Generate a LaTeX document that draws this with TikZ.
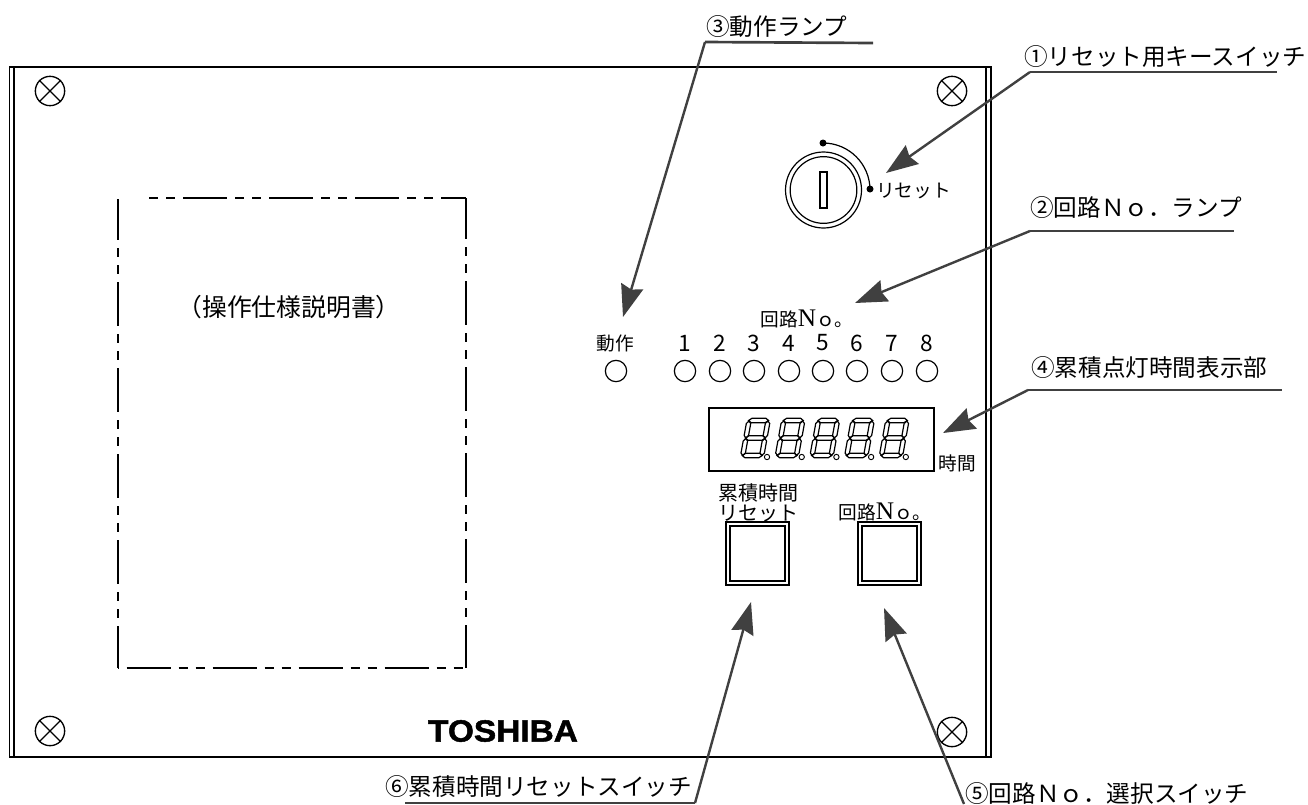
\documentclass[tikz,border=0pt]{standalone}
\usepackage{fontspec}
\setmainfont{Noto Sans CJK JP}
\newfontfamily\serifN{Liberation Serif}
\newfontfamily\logofont{Liberation Sans}[BoldFeatures={FakeBold=1.5}]
\usetikzlibrary{arrows.meta}
\definecolor{leader}{rgb}{0.25,0.25,0.25}
\tikzset{lamp/.style = {shape=circle,draw,line width=0.9pt,inner sep=0pt,minimum size=16pt}}
\tikzset{screw/.style = {shape=circle,draw,line width=1pt,inner sep=0pt,minimum size=22pt}}
\tikzset{callout/.style = {font=\fontsize{17.7}{17.7}\selectfont,anchor=west,inner sep=0pt}}
\tikzset{lbl/.style = {font=\fontsize{14}{14}\selectfont,inner sep=0pt}}
\tikzset{underline/.style = {draw=leader,line width=2pt}}
\tikzset{edge/.style = {draw=leader,line width=1.8pt,-{Stealth[length=24pt,width=17pt,inset=2.5pt,fill=leader]}}}
\tikzset{segment/.style = {draw,line width=0.9pt}}
\tikzset{sheetline/.style = {line width=1.3pt,dash pattern=on 33pt off 6pt on 6.75pt off 6pt on 6.75pt off 6pt}}
\newcommand{\hseg}[2]{\draw[segment] (#1,#2) -- ++(3,-2.2) -- ++(14,0) -- ++(3,2.2) -- ++(-3,2.2) -- ++(-14,0) -- cycle;}
\newcommand{\vseg}[2]{\draw[segment] (#1,#2) -- ++(2.2,2.5) -- ++(0,12) -- ++(-2.2,2.5) -- ++(-2.2,-2.5) -- ++(0,-12) -- cycle;}
\begin{document}
\begin{tikzpicture}[x=0.75pt,y=-0.75pt]
\useasboundingbox (0,0) rectangle (1308,804);
% panel
\node[draw,line width=1.3pt,minimum width=736pt,minimum height=517.5pt,inner sep=0pt] (panel) at (500.25,412) {};
\draw[line width=1.1pt] (14,67) -- (14,757);
\draw[line width=1.1pt] (986,67) -- (986,757);
% screws
\foreach \name/\x/\y in {sa/50/91,sb/952/91,sc/50/731,sd/952/732}{
  \node[screw] (\name) at (\x,\y) {};
  \draw[line width=1pt] (\name.north west) -- (\name.south east);
  \draw[line width=1pt] (\name.north east) -- (\name.south west);
}
% instruction sheet
\draw[sheetline,dash phase=2.25pt] (118,199) -- (118,668);
\draw[sheetline,dash phase=2.25pt] (466,198) -- (466,668);
\draw[sheetline,dash phase=33pt+6pt] (149,198) -- (466,198);
\draw[sheetline,dash phase=58pt] (118,668) -- (466,668);
\node[font=\fontsize{18.6}{18.6}\selectfont,inner sep=0pt] (sheet) at (289,307) {（操作仕様説明書）};
\node[font=\bfseries\fontsize{23}{23}\logofont\selectfont,inner sep=0pt,xscale=1.09] (logo) at (503,731) {TOSHIBA};
% key switch
\node[shape=circle,draw,line width=0.9pt,inner sep=0pt,minimum size=57pt] (keyout) at (823.5,190) {};
\node[shape=circle,draw,line width=0.9pt,inner sep=0pt,minimum size=50pt] (keyin) at (823.5,190) {};
\node[draw,line width=0.8pt,inner sep=0pt,minimum width=5.25pt,minimum height=27pt] (slot) at (823.5,190) {};
\fill (823,143) circle[radius=3.5];
\fill (870,189) circle[radius=3.5];
\draw[line width=0.9pt] (823,143) arc[start angle=-90,end angle=0,radius=47];
\node[lbl,anchor=west] (reset) at (876,191) {リセット};
% lamps
\node[lbl] (runlbl) at (615,343) {動作};
\node[lamp] (run) at (616,371) {};
\node[lbl] (circlbl) at (807,319) {回路{\serifN\fontsize{19}{19}\selectfont N}ｏ。};
\foreach \i/\x in {1/685,2/720,3/754,4/789,5/823,6/857,7/892,8/927}{
  \node[lbl,font=\fontsize{17}{17}\selectfont] (n\i) at (\x,343) {\i};
  \node[lamp] (l\i) at (\x,371) {};
}
% display
\node[draw,line width=1.1pt,minimum width=168.75pt,minimum height=47.25pt,inner sep=0pt] (disp) at (821.5,439.5) {};
\foreach \i in {0,...,4}{
  \begin{scope}[shift={(\i*34.7+748,418)},xslant=0.18]
    \hseg{1}{2.5}\hseg{1}{20}\hseg{1}{37.5}
    \vseg{1.5}{3}\vseg{20.5}{3}\vseg{1.5}{20.5}\vseg{20.5}{20.5}
  \end{scope}
  \node[draw,shape=circle,line width=0.7pt,inner sep=0pt,minimum size=4pt] (dot\i) at (\i*34.7+767,457) {};
}
\node[lbl] (hours) at (957,463) {時間};
% push buttons
\node[draw,line width=1.2pt,minimum size=47.25pt,inner sep=0pt] (btna) at (757.5,553.5) {};
\node[draw,line width=1.2pt,minimum size=41pt,inner sep=0pt] (btnai) at (757.5,553.5) {};
\node[draw,line width=1.2pt,minimum size=47.25pt,inner sep=0pt] (btnb) at (889.5,553.5) {};
\node[draw,line width=1.2pt,minimum size=41pt,inner sep=0pt] (btnbi) at (889.5,553.5) {};
\node[lbl,font=\fontsize{15}{15}\selectfont] (btnat) at (758,493) {累積時間};
\node[lbl,font=\fontsize{15}{15}\selectfont] (btnab) at (758,513) {リセット};
\node[lbl] (btnbt) at (885,512) {回路{\serifN\fontsize{19}{19}\selectfont N}ｏ。};
% callouts
\node[callout] (c3) at (706,27) {③動作ランプ};
\node[callout] (c1) at (1024,57) {①リセット用キースイッチ};
\node[callout] (c2) at (1030,208) {②回路Ｎｏ．ランプ};
\node[callout] (c4) at (1031,368) {④累積点灯時間表示部};
\node[callout] (c6) at (385,787) {⑥累積時間リセットスイッチ};
\node[callout] (c5) at (965,794) {⑤回路Ｎｏ．選択スイッチ};
% leader ends
\coordinate (j3) at (705,42);   \coordinate (e3) at (873,43);  \coordinate (t3) at (623,317);
\coordinate (j1) at (1030,72);  \coordinate (e1) at (1277,72); \coordinate (t1) at (886,173);
\coordinate (j2) at (1030,231); \coordinate (e2) at (1234,231);\coordinate (t2) at (855,303);
\coordinate (j4) at (1028,390); \coordinate (e4) at (1282,390);\coordinate (t4) at (943,433);
\coordinate (j6) at (695,803);  \coordinate (e6) at (405,803); \coordinate (t6) at (751,602);
\coordinate (j5) at (964,804);  \coordinate (t5) at (884,608);
%edges
\draw[underline] (j3) to (e3);
\draw[underline] (j1) to (e1);
\draw[underline] (j2) to (e2);
\draw[underline] (j4) to (e4);
\draw[underline] (j6) to (e6);
\draw[edge] (j3) to (t3);
\draw[edge] (j1) to (t1);
\draw[edge] (j2) to (t2);
\draw[edge] (j4) to (t4);
\draw[edge] (j6) to (t6);
\draw[edge] (j5) to (t5);
\end{tikzpicture}
\end{document}
